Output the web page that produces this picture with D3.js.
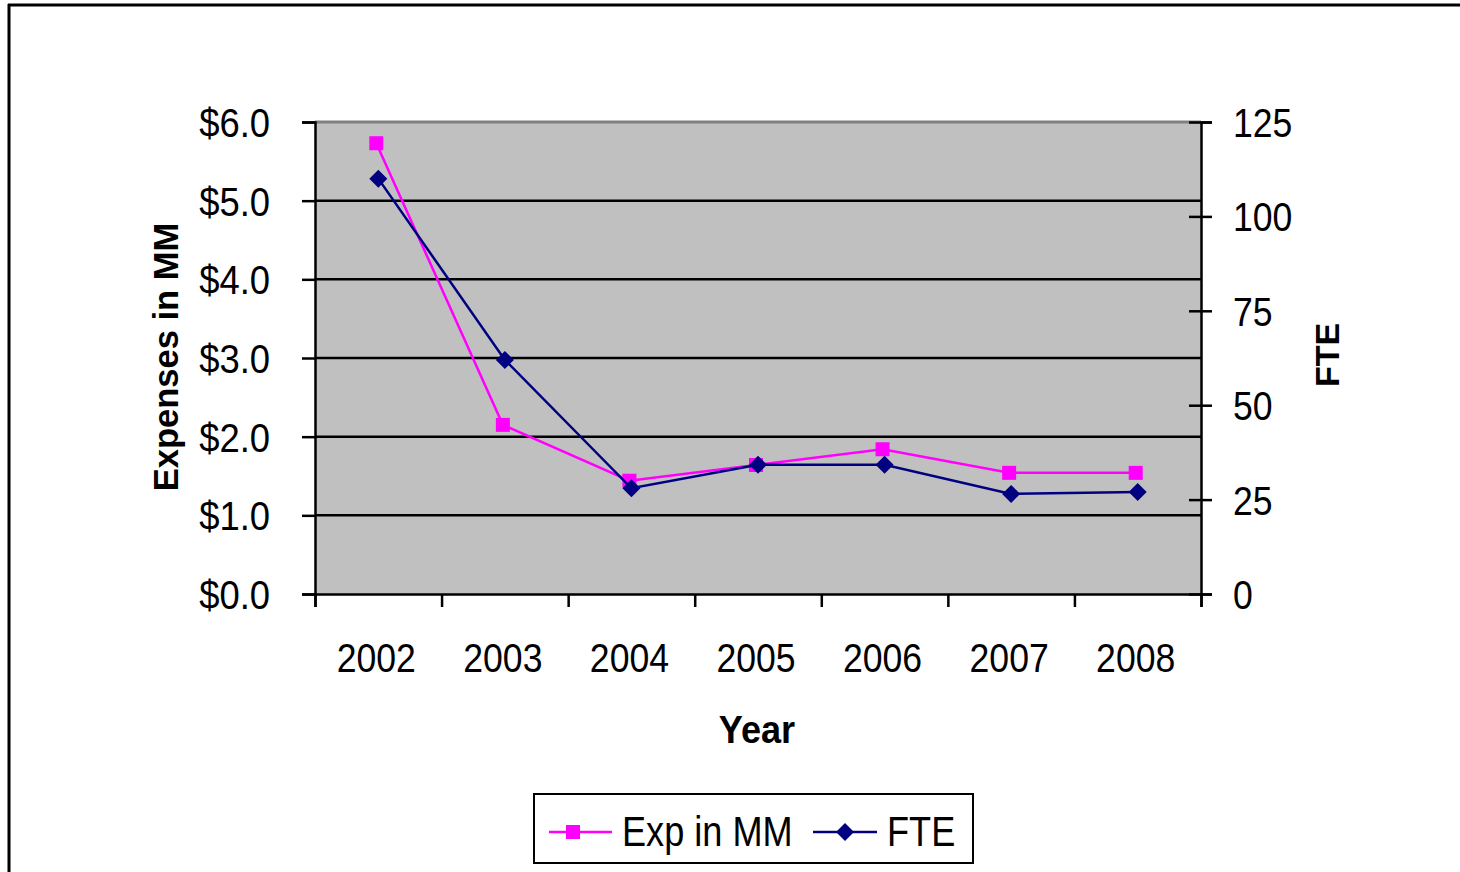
<!DOCTYPE html>
<html>
<head>
<meta charset="utf-8">
<script src="https://cdn.jsdelivr.net/npm/d3@7"></script>
<style>
  html, body { margin: 0; padding: 0; background: #fff; }
  svg { display: block; font-family: "Liberation Sans", Arial, sans-serif; }
</style>
</head>
<body>
<svg id="chart" width="1460" height="872"></svg>
<script>
// ---- data ----
const years = ["2002", "2003", "2004", "2005", "2006", "2007", "2008"];
const expInMM = [5.73, 2.15, 1.44, 1.64, 1.84, 1.54, 1.54];
const fte = [110, 62, 28, 34.2, 34.2, 26.5, 27];
const leftTicks = [0, 1, 2, 3, 4, 5, 6];
const rightTicks = [0, 25, 50, 75, 100, 125];
const seriesNames = ["Exp in MM", "FTE"];

// ---- layout ----
const W = 1460, H = 872;
const plot = { x0: 315, x1: 1201, y0: 122, y1: 594 };
const pink = "#FF00FF", navy = "#000080";

const svg = d3.select("#chart");

function squeeze(sel, f) {
  sel.each(function () {
    const w = this.getComputedTextLength();
    d3.select(this).attr("textLength", w * f).attr("lengthAdjust", "spacingAndGlyphs");
  });
}

// outer frame
svg.append("line").attr("x1", 8).attr("x2", W).attr("y1", 5).attr("y2", 5)
  .attr("stroke", "#000").attr("stroke-width", 3);
svg.append("line").attr("x1", 9).attr("x2", 9).attr("y1", 4).attr("y2", H)
  .attr("stroke", "#000").attr("stroke-width", 3);

// scales
const x = d3.scaleBand().domain(years).range([plot.x0, plot.x1]).padding(0);
const xEdge = d3.scaleLinear().domain([0, years.length]).range([plot.x0, plot.x1]);
const yL = d3.scaleLinear().domain([0, 6]).range([plot.y1, plot.y0]);
const yR = d3.scaleLinear().domain([0, 125]).range([plot.y1, plot.y0]);

// plot background
svg.append("rect").attr("x", plot.x0).attr("y", plot.y0)
  .attr("width", plot.x1 - plot.x0).attr("height", plot.y1 - plot.y0)
  .attr("fill", "#C0C0C0");
svg.append("line").attr("x1", plot.x0).attr("x2", plot.x1)
  .attr("y1", plot.y0).attr("y2", plot.y0)
  .attr("stroke", "#808080").attr("stroke-width", 3);

// gridlines
svg.append("g").selectAll("line").data(leftTicks.filter(d => d > 0 && d < 6)).join("line")
  .attr("x1", plot.x0).attr("x2", plot.x1)
  .attr("y1", d => yL(d)).attr("y2", d => yL(d))
  .attr("stroke", "#000").attr("stroke-width", 2.5);

// left axis
const gL = svg.append("g").attr("transform", `translate(${plot.x0},0)`)
  .call(d3.axisLeft(yL).tickValues(leftTicks).tickSize(13).tickPadding(32)
    .tickFormat(d => "$" + d.toFixed(1)));
gL.select(".domain").attr("stroke", "#000").attr("stroke-width", 2.5);
gL.selectAll(".tick line").attr("stroke", "#000").attr("stroke-width", 2.5);
gL.selectAll(".tick text").attr("font-size", 40).attr("fill", "#000")
  .attr("font-family", "Liberation Sans, Arial, sans-serif").attr("x", -45).attr("dy", "0.36em");
squeeze(gL.selectAll(".tick text"), 0.91);

// right axis
const gR = svg.append("g").attr("transform", `translate(${plot.x1},0)`)
  .call(d3.axisRight(yR).tickValues(rightTicks).tickSize(11).tickPadding(21));
gR.select(".domain").attr("stroke", "#000").attr("stroke-width", 2.5);
gR.selectAll(".tick line").attr("x1", -12).attr("x2", 11).attr("stroke", "#000").attr("stroke-width", 2.5);
gR.selectAll(".tick text").attr("font-size", 40).attr("fill", "#000")
  .attr("font-family", "Liberation Sans, Arial, sans-serif").attr("x", 32).attr("dy", "0.36em");
squeeze(gR.selectAll(".tick text"), 0.89);

// bottom axis: boundary ticks
const gB = svg.append("g").attr("transform", `translate(0,${plot.y1})`)
  .call(d3.axisBottom(xEdge).tickValues(d3.range(years.length + 1)).tickSize(13).tickFormat(""));
gB.select(".domain").attr("stroke", "#000").attr("stroke-width", 2.5);
gB.selectAll(".tick line").attr("stroke", "#000").attr("stroke-width", 2.5);

// bottom axis: category labels
const gB2 = svg.append("g").attr("transform", `translate(-2,${plot.y1})`)
  .call(d3.axisBottom(x).tickSize(0).tickPadding(0));
gB2.select(".domain").remove();
gB2.selectAll(".tick text").attr("font-size", 40).attr("fill", "#000")
  .attr("font-family", "Liberation Sans, Arial, sans-serif").attr("y", 78).attr("dy", 0);
squeeze(gB2.selectAll(".tick text"), 0.89);

// axis titles
const yearT = svg.append("text").attr("x", 757).attr("y", 743).attr("text-anchor", "middle")
  .attr("font-size", 38).attr("font-weight", "bold").text("Year");
squeeze(yearT, 0.95);
svg.append("text").attr("transform", "translate(178,357) rotate(-90)").attr("text-anchor", "middle")
  .attr("font-size", 34.5).attr("font-weight", "bold").text("Expenses in MM");
svg.append("text").attr("transform", "translate(1339,355) rotate(-90)").attr("text-anchor", "middle")
  .attr("font-size", 34).attr("font-weight", "bold").text("FTE");

// series
const cx = d => x(d) + x.bandwidth() / 2;
const expLine = d3.line().x((d, i) => cx(years[i]) - 2).y(d => yL(d));
const fteLine = d3.line().x((d, i) => cx(years[i])).y(d => yR(d));

svg.append("path").datum(expInMM).attr("d", expLine)
  .attr("fill", "none").attr("stroke", pink).attr("stroke-width", 2.5);
svg.append("g").selectAll("rect").data(expInMM).join("rect")
  .attr("x", (d, i) => cx(years[i]) - 2 - 7).attr("y", d => yL(d) - 7)
  .attr("width", 14).attr("height", 14).attr("fill", pink);

svg.append("path").datum(fte).attr("d", fteLine)
  .attr("fill", "none").attr("stroke", navy).attr("stroke-width", 2.5);
const diamond = "M0,-9L9,0L0,9L-9,0Z";
svg.append("g").selectAll("path").data(fte).join("path")
  .attr("transform", (d, i) => `translate(${cx(years[i])},${yR(d)})`)
  .attr("d", diamond).attr("fill", navy);

// legend
const lg = svg.append("g");
lg.append("rect").attr("x", 534).attr("y", 794).attr("width", 439).attr("height", 69)
  .attr("fill", "#fff").attr("stroke", "#000").attr("stroke-width", 2);
const legendItems = [
  { name: seriesNames[0], color: pink, lx1: 549, lx2: 612, mx: 573, tx: 622, shape: "square" },
  { name: seriesNames[1], color: navy, lx1: 813, lx2: 877, mx: 845, tx: 887, shape: "diamond" }
];
legendItems.forEach(it => {
  lg.append("line").attr("x1", it.lx1).attr("x2", it.lx2).attr("y1", 832).attr("y2", 832)
    .attr("stroke", it.color).attr("stroke-width", 2.5);
  if (it.shape === "square") {
    lg.append("rect").attr("x", it.mx - 7).attr("y", 832 - 7).attr("width", 14).attr("height", 14)
      .attr("fill", it.color);
  } else {
    lg.append("path").attr("transform", `translate(${it.mx},832)`).attr("d", diamond).attr("fill", it.color);
  }
  const t = lg.append("text").attr("x", it.tx).attr("y", 846).attr("font-size", 42)
    .attr("fill", "#000").text(it.name);
  squeeze(t, 0.86);
});
</script>
</body>
</html>
